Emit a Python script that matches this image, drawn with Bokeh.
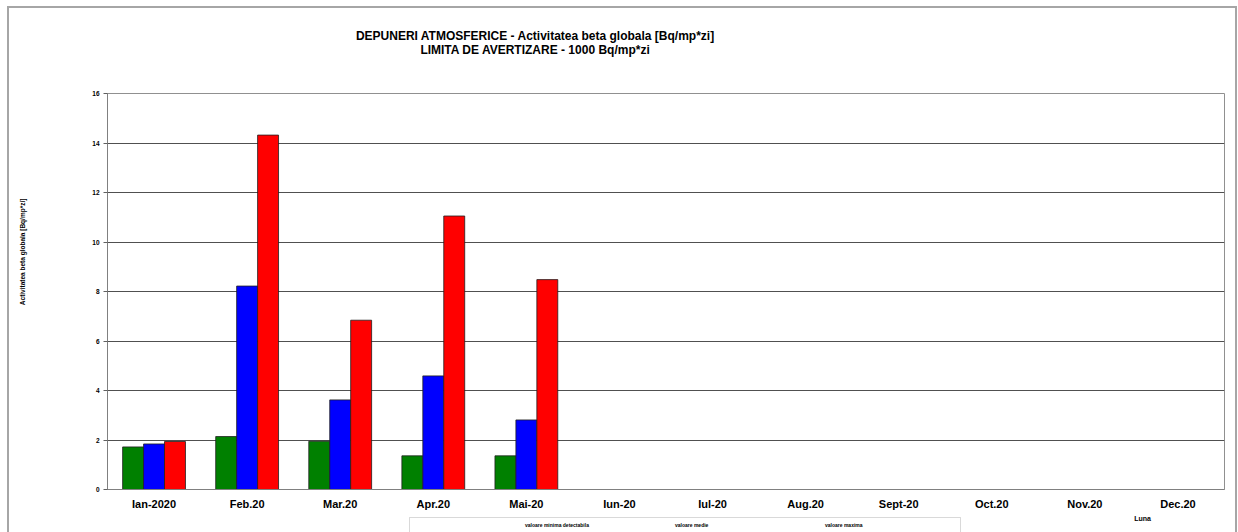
from bokeh.plotting import figure
from bokeh.layouts import column
from bokeh.models import (ColumnDataSource, FactorRange, Label, Legend, LegendItem,
                          FixedTicker, BoxAnnotation, Range1d, LinearAxis)
from bokeh.transform import dodge
from bokeh.embed import file_html
from bokeh.resources import INLINE

months = ["Ian-2020", "Feb.20", "Mar.20", "Apr.20", "Mai-20", "Iun-20",
          "Iul-20", "Aug.20", "Sept-20", "Oct.20", "Nov.20", "Dec.20"]
measured = months[:5]
val_min = [1.72, 2.14, 1.95, 1.36, 1.36]
val_med = [1.84, 8.22, 3.62, 4.59, 2.81]
val_max = [1.94, 14.32, 6.84, 11.05, 8.48]
series_names = ["valoare minima detectabila", "valoare medie", "valoare maxima"]
series_colors = ["#008000", "#0000FF", "#FF0000"]
y_ticks = [0, 2, 4, 6, 8, 10, 12, 14, 16]

title1 = "DEPUNERI ATMOSFERICE - Activitatea beta globala [Bq/mp*zi]"
title2 = "LIMITA DE AVERTIZARE - 1000 Bq/mp*zi"
ylabel = "Activitatea beta globala [Bq/mp*zi]"
xlabel = "Luna"

FONT = "Liberation Sans"
W = 1238
FL, FR = 107, 1224          # frame left / right on the page (all rows share it)


def strip(h):
    f = figure(width=W, height=h, x_range=Range1d(FL, FR), y_range=Range1d(h, 0),
               x_axis_type=None, y_axis_type=None, output_backend="svg",
               toolbar_location=None, min_border_left=FL, min_border_right=W - FR,
               min_border_top=0, min_border_bottom=0)
    f.outline_line_color = None
    f.border_fill_color = None
    f.background_fill_color = None
    return f


# ---- title strip ----
p0 = strip(70)
for txt, yy in ((title1, 35), (title2, 49)):
    p0.add_layout(Label(x=535, y=yy, text=txt, text_font=FONT, text_font_size="12px",
                        text_font_style="bold", text_align="center", text_baseline="middle",
                        text_color="#000000"))

# ---- main chart ----
src = ColumnDataSource(dict(month=measured, vmin=val_min, vmed=val_med, vmax=val_max))

p = figure(width=W, height=442, x_range=FactorRange(*months), y_range=(0, 16),
           title=None, output_backend="svg", toolbar_location=None,
           min_border_left=FL, min_border_right=W - FR, min_border_top=23, min_border_bottom=23)
p.border_fill_color = None
p.background_fill_color = None

bw = 0.225
for col, off, color in zip(["vmin", "vmed", "vmax"], [-bw, 0, bw], series_colors):
    p.vbar(x=dodge("month", off, range=p.x_range), top=col, width=bw, source=src,
           fill_color=color, line_color="#202020", line_width=0.8)

p.xaxis.major_label_text_font = FONT
p.xaxis.major_label_text_font_style = "bold"
p.xaxis.major_label_text_font_size = "11px"
p.xaxis.major_label_text_color = "#000000"
p.xaxis.major_tick_line_color = None
p.xaxis.major_tick_out = 0
p.xaxis.major_tick_in = 0
p.xaxis.minor_tick_line_color = None
p.xaxis.axis_line_color = "#808080"
p.xaxis.major_label_standoff = 8

y_axis = p.yaxis[0]
y_axis.ticker = FixedTicker(ticks=y_ticks)
y_axis.major_label_text_font = FONT
y_axis.major_label_text_font_style = "bold"
y_axis.major_label_text_font_size = "6.5px"
y_axis.major_label_text_color = "#000000"
y_axis.major_tick_out = 4
y_axis.major_tick_in = 0
y_axis.minor_tick_line_color = None
y_axis.axis_line_color = "#808080"
y_axis.major_tick_line_color = "#606060"
y_axis.major_label_standoff = 4

# y title, drawn as the single (rotated) label of an outer axis
ytitle_at = 9.6
ytitle_axis = LinearAxis(ticker=FixedTicker(ticks=[ytitle_at]),
                         major_label_overrides={ytitle_at: ylabel},
                         major_label_orientation="vertical",
                         major_label_text_font=FONT, major_label_text_font_style="bold",
                         major_label_text_font_size="6.5px", major_label_text_color="#000000",
                         major_label_standoff=63, major_tick_out=0, major_tick_in=0,
                         major_tick_line_color=None, minor_tick_line_color=None,
                         axis_line_color=None)
p.add_layout(ytitle_axis, "left")

p.xgrid.grid_line_color = None
p.ygrid.ticker = FixedTicker(ticks=y_ticks[1:-1])
p.ygrid.grid_line_color = "#505050"
p.ygrid.grid_line_width = 1
p.outline_line_color = "#909090"
p.outline_line_width = 1

# ---- legend / x label strip ----
p2 = strip(20)
proxies = [p2.vbar(x=[], top=[], width=1, fill_color=c, line_color="#202020", line_width=0.5)
           for c in series_colors]
legend = Legend(items=[LegendItem(label=n, renderers=[r]) for n, r in zip(series_names, proxies)],
                orientation="horizontal", location=(519 - FL, 4),
                label_text_font=FONT, label_text_font_size="5px", label_text_font_style="bold",
                label_text_color="#000000",
                glyph_width=4, glyph_height=3, label_standoff=2, label_width=144, label_height=6,
                spacing=0, padding=0, margin=0, border_line_color=None,
                background_fill_alpha=0)
p2.add_layout(legend, "center")
p2.add_layout(BoxAnnotation(left=409, right=960, top=5, bottom=60, fill_alpha=0,
                            line_color="#808080", line_width=1))
p2.add_layout(Label(x=1142, y=6, text=xlabel, text_font=FONT, text_font_size="7px",
                    text_font_style="bold", text_align="center", text_baseline="middle",
                    text_color="#000000"))

g = "linear-gradient(#a6a6a6, #a6a6a6)"
layout = column(p0, p, p2, spacing=0, styles={
    "background": (f"{g} 7px 6px / 2px 100% no-repeat, "
                   f"{g} 7px 6px / 1230px 2px no-repeat, "
                   f"{g} 1235px 6px / 2px 100% no-repeat, #ffffff")})
open("out.html", "w").write(file_html(layout, INLINE))
